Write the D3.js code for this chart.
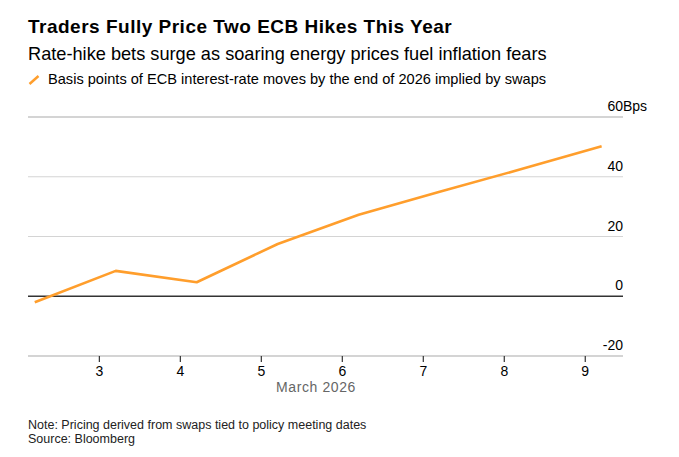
<!DOCTYPE html>
<html>
<head>
<meta charset="utf-8">
<script src="https://cdn.jsdelivr.net/npm/d3@7"></script>
<style>
  html, body { margin: 0; padding: 0; background: #fff; }
  svg { display: block; font-family: "Liberation Sans", Arial, sans-serif; }
</style>
</head>
<body>
<svg id="chart" width="679" height="457"></svg>
<script>
// data
const dates = ["2026-03-02T05:00", "2026-03-03T05:00", "2026-03-04T05:00", "2026-03-05T05:00",
               "2026-03-06T05:00", "2026-03-07T05:00", "2026-03-08T05:00", "2026-03-09T05:00"];
const bps = [-2, 8.5, 4.7, 17.5, 27.3, 35, 42.5, 50.2];
const xDomain = ["2026-03-02T03:00", "2026-03-09T11:20"];
const yTicks = [-20, 0, 20, 40, 60];
const xTicks = ["2026-03-03", "2026-03-04", "2026-03-05", "2026-03-06", "2026-03-07", "2026-03-08", "2026-03-09"];

const title = "Traders Fully Price Two ECB Hikes This Year";
const subtitle = "Rate-hike bets surge as soaring energy prices fuel inflation fears";
const legendLabel = "Basis points of ECB interest-rate moves by the end of 2026 implied by swaps";
const xTitle = "March 2026";
const notes = ["Note: Pricing derived from swaps tied to policy meeting dates", "Source: Bloomberg"];

const parse = d3.timeParse("%Y-%m-%dT%H:%M");
const parseDay = d3.timeParse("%Y-%m-%d");
const data = dates.map((d, i) => ({ date: parse(d), value: bps[i] }));

const svg = d3.select("#chart");
const plotL = 28, plotR = 623, plotT = 117, plotB = 356;

const x = d3.scaleTime().domain(xDomain.map(parse)).range([plotL, plotR]);
const y = d3.scaleLinear().domain([-20, 60]).range([plotB, plotT]);

// header
svg.append("text")
  .attr("x", 28).attr("y", 32.5)
  .attr("font-size", 19).attr("font-weight", "bold").attr("fill", "#000")
  .attr("letter-spacing", 0.5)
  .text(title);

svg.append("text")
  .attr("x", 28).attr("y", 60)
  .attr("font-size", 18.2).attr("fill", "#000")
  .text(subtitle);

svg.append("line")
  .attr("x1", 29.5).attr("y1", 84).attr("x2", 38.5).attr("y2", 76)
  .attr("stroke", "#ff9e2c").attr("stroke-width", 2.5);

svg.append("text")
  .attr("x", 48).attr("y", 84)
  .attr("font-size", 14.6).attr("fill", "#000")
  .text(legendLabel);

// gridlines
svg.append("g")
  .selectAll("line")
  .data(yTicks)
  .join("line")
  .attr("x1", plotL).attr("x2", plotR)
  .attr("y1", d => y(d)).attr("y2", d => y(d))
  .attr("stroke", d => d === 0 ? "#333" : "#d4d4d4")
  .attr("stroke-width", d => d === 0 ? 1.6 : (d === -20 || d === 60 ? 2 : 1.2));

// y labels on the right, above gridlines
const yLab = svg.append("g")
  .attr("font-size", 14).attr("fill", "#000");
yLab.selectAll("text")
  .data(yTicks)
  .join("text")
  .attr("x", plotR).attr("y", d => y(d) - 6)
  .attr("text-anchor", "end")
  .text(d => d);
yLab.append("text")
  .attr("x", plotR).attr("y", y(60) - 6)
  .text("Bps");

// x axis
const xAxis = d3.axisBottom(x)
  .tickValues(xTicks.map(parseDay))
  .tickFormat(d3.timeFormat("%-d"))
  .tickSize(6)
  .tickPadding(4);

const gx = svg.append("g")
  .attr("transform", `translate(0,${plotB})`)
  .call(xAxis);
gx.select(".domain").remove();
gx.selectAll(".tick line").attr("stroke", "#333").attr("stroke-width", 1.2);
gx.selectAll(".tick text")
  .attr("font-size", 14).attr("fill", "#000")
  .attr("font-family", "Liberation Sans, Arial, sans-serif");

svg.append("text")
  .attr("x", 316).attr("y", 392)
  .attr("text-anchor", "middle")
  .attr("font-size", 14).attr("fill", "#666")
  .attr("letter-spacing", 0.6)
  .text(xTitle);

// line
const line = d3.line()
  .x(d => x(d.date))
  .y(d => y(d.value));

svg.append("path")
  .datum(data)
  .attr("fill", "none")
  .attr("stroke", "#ff9e2c")
  .attr("stroke-width", 2.6)
  .attr("stroke-linejoin", "round")
  .attr("d", line);

// footer
svg.append("g")
  .attr("font-size", 12.5).attr("fill", "#222")
  .selectAll("text")
  .data(notes)
  .join("text")
  .attr("x", 28)
  .attr("y", (d, i) => 429 + i * 14)
  .text(d => d);
</script>
</body>
</html>
